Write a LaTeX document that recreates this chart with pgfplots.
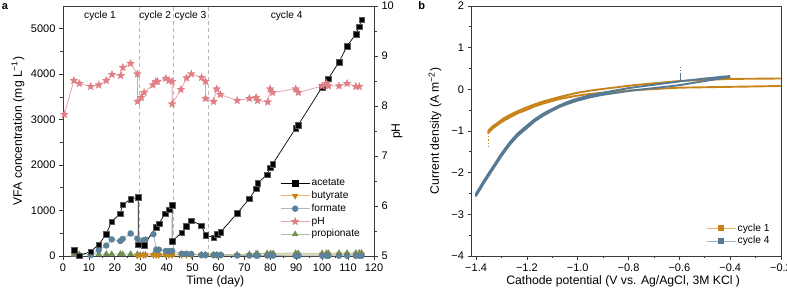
\documentclass[border=0pt]{standalone}
\usepackage{pgfplots}
\pgfplotsset{compat=1.18}
\usepackage{fontspec}
\setmainfont{Liberation Sans}
\definecolor{axgray}{HTML}{3A3A3A}
\definecolor{butyD}{HTML}{C98616}
\definecolor{butyL}{HTML}{E6BC6A}
\definecolor{formD}{HTML}{5B8299}
\definecolor{formL}{HTML}{A3BAC9}
\definecolor{phD}{HTML}{DF7F86}
\definecolor{phL}{HTML}{E9A3A7}
\definecolor{propD}{HTML}{6F8F55}
\definecolor{propL}{HTML}{A9C196}
\definecolor{cvO}{HTML}{C8841A}
\definecolor{cvB}{HTML}{577A92}
\definecolor{cvOL}{HTML}{E2B466}
\definecolor{cvBL}{HTML}{9DB3C3}
\pgfdeclareplotmark{fstar}{%
  \pgfpathmoveto{\pgfpointpolar{90}{\pgfplotmarksize}}%
  \pgfpathlineto{\pgfpointpolar{126}{0.45\pgfplotmarksize}}%
  \pgfpathlineto{\pgfpointpolar{162}{\pgfplotmarksize}}%
  \pgfpathlineto{\pgfpointpolar{198}{0.45\pgfplotmarksize}}%
  \pgfpathlineto{\pgfpointpolar{234}{\pgfplotmarksize}}%
  \pgfpathlineto{\pgfpointpolar{270}{0.45\pgfplotmarksize}}%
  \pgfpathlineto{\pgfpointpolar{306}{\pgfplotmarksize}}%
  \pgfpathlineto{\pgfpointpolar{342}{0.45\pgfplotmarksize}}%
  \pgfpathlineto{\pgfpointpolar{18}{\pgfplotmarksize}}%
  \pgfpathlineto{\pgfpointpolar{54}{0.45\pgfplotmarksize}}%
  \pgfpathclose
  \pgfusepathqfillstroke}
\pgfplotsset{
  myaxis/.style={
    scale only axis,
    tick align=outside,
    axis line style={axgray, line width=0.8pt},
    every tick/.style={axgray, line width=0.7pt},
    major tick length=4pt, minor tick length=2.5pt,
    tick label style={font=\fontsize{11}{13}\selectfont},
    label style={font=\fontsize{12.2}{14}\selectfont},
    /pgf/number format/assume math mode=true,
    /pgf/number format/1000 sep={},
    scaled ticks=false,
  },
  leg/.style={
    legend cell align=left,
    legend style={draw=none, fill=none, font=\fontsize{10.2}{12}\selectfont,
      inner sep=0pt, row sep=0pt,
      nodes={inner sep=1.5pt, text height=7.6pt, text depth=2.2pt},
      /tikz/every even column/.append style={column sep=3pt}},
    legend image code/.code={%
      \draw[mark repeat=2,mark phase=2,##1] plot coordinates {(0pt,0pt)(14.5pt,0pt)(29pt,0pt)};},
  },
}
\begin{document}
\begin{tikzpicture}
% ---------------- panel a, left axis ----------------
\begin{axis}[myaxis,
  at={(63pt,35pt)}, anchor=south west,
  width=311pt, height=250pt,
  xmin=0, xmax=120, ymin=0, ymax=5500,
  xtick={0,10,...,120}, minor x tick num=1,
  ytick={0,1000,...,5000}, minor y tick num=1,
  xtick pos=left, ytick pos=left,
  xlabel={Time (day)},
  ylabel={VFA concentration (mg L\textsuperscript{−1})},
  xlabel style={at={(axis description cs:0.49,-0.103)}, anchor=center},
  ylabel style={at={(axis description cs:-0.145,0.5)}, anchor=center},
  clip=false,
]
\draw[gray!55, line width=0.8pt, dash pattern=on 4pt off 3pt] (axis cs:29.5,0) -- (axis cs:29.5,5500);
\draw[gray!55, line width=0.8pt, dash pattern=on 4pt off 3pt] (axis cs:42.5,0) -- (axis cs:42.5,5500);
\draw[gray!55, line width=0.8pt, dash pattern=on 4pt off 3pt] (axis cs:56,0) -- (axis cs:56,5500);
\node[font=\fontsize{10.2}{12}\selectfont] at (axis cs:14.3,5290) {cycle 1};
\node[font=\fontsize{10.2}{12}\selectfont] at (axis cs:35.6,5290) {cycle 2};
\node[font=\fontsize{10.2}{12}\selectfont] at (axis cs:49.2,5290) {cycle 3};
\node[font=\fontsize{10.2}{12}\selectfont] at (axis cs:86.3,5290) {cycle 4};
% propionate
\addplot[propL, line width=0.8pt, mark=triangle*, mark size=3pt, mark options={fill=propD, draw=propD}] coordinates {
(4.2,30)(6.3,40)(10.7,40)(13.8,40)(16.7,45)(18.8,40)(22.1,45)(23.0,40)(26.1,45)(28.7,40)
(29.8,20)(31.0,25)(31.8,25)(34.9,30)(36.0,30)(37.0,30)(39.7,30)(40.9,30)(42.1,30)
(45.8,35)(47.6,35)(49.5,35)(53.4,30)(55.0,30)(58.1,30)(59.4,30)(60.9,30)(67.2,30)
(71.9,40)(74.5,50)(75.1,50)(78.8,60)(80.1,60)(81.1,60)(89.8,65)(90.8,60)(100,60)
(101.7,65)(102.4,65)(106.5,65)(109.6,65)(113,70)(114.3,70)(115.2,70)};
% butyrate
\addplot[butyL, line width=0.8pt, mark=triangle*, mark size=3pt, mark options={rotate=180, fill=butyD, draw=butyD}] coordinates {
(28.7,5)(29.8,20)(31.0,20)(31.8,20)(34.9,20)(36.0,20)(37.0,20)(39.7,20)(40.9,20)(42.1,20)
(45.8,20)(47.6,20)(49.5,20)(53.4,20)(55.0,20)(58.1,20)(59.4,20)(60.9,20)(67.2,20)
(71.9,20)(74.5,20)(75.1,20)(78.8,25)(80.1,25)(81.1,25)(89.8,25)(90.8,25)(100,30)
(101.7,30)(102.4,30)(106.5,30)(109.6,30)(113,30)(114.3,30)(115.2,30)};
% formate
\addplot[formL, line width=0.8pt, mark=*, mark size=2.8pt, mark options={fill=formD, draw=formD}] coordinates {
(10.7,20)(13.8,130)(16.7,230)(18.8,365)(22.1,330)(23.0,375)(26.1,495)(28.7,380)
(29.8,250)(31.0,345)(31.8,360)(34.9,480)(36.0,140)(37.0,140)(39.7,110)(40.9,110)(42.1,110)
(45.8,50)(47.6,50)(49.5,45)(53.4,20)(55.0,20)(58.1,20)(59.4,20)(60.9,20)(67.2,10)
(71.9,10)(74.5,10)(75.1,10)(78.8,10)(80.1,10)(81.1,10)(89.8,5)(90.8,5)(100,5)
(101.7,5)(102.4,5)(106.5,5)(109.6,5)(113,5)(114.3,5)(115.2,5)};
% acetate
\addplot[black, line width=0.7pt, mark=square*, mark size=2.8pt, mark options={fill=black, draw=black!65, line width=0.3pt}] coordinates {
(4.2,126)(6.3,10)(10.6,95)(13.8,252)(16.7,486)(18.8,760)(22.1,930)(23.0,1126)(26.1,1252)(29.0,1289)
(29.0,250)(31.2,240)(35.9,634)(37.0,715)(39.5,935)(40.9,1024)(42.1,1119)
(42.1,324)(45.8,517)(47.6,656)(49.5,781)(53.4,670)(55.0,457)(58.1,406)(59.4,479)(60.9,530)
(67.2,940)(71.9,1262)(74.5,1484)(75.1,1605)(78.8,1790)(79.9,1940)(80.9,2024)
(89.8,2812)(90.8,2885)(100.0,3717)(102.4,3901)(106.5,4269)(109.6,4614)(113.0,4887)(114.3,5042)(115.2,5203)};
\end{axis}
% ---------------- panel a, right axis (pH) ----------------
\begin{axis}[myaxis, leg,
  at={(63pt,35pt)}, anchor=south west,
  width=311pt, height=250pt,
  xmin=0, xmax=120, ymin=5, ymax=10,
  axis x line=none, axis y line*=right,
  ytick={5,6,...,10}, minor y tick num=1,
  ylabel={pH},
  ylabel style={at={(axis description cs:1.074,0.5)}, anchor=center},
  legend style={at={(0.698,0.318)}, anchor=north west},
]
\addlegendimage{black, line width=0.7pt, mark=square*, mark size=2.8pt, mark options={fill=black}}
\addlegendentry{acetate}
\addlegendimage{butyL, line width=0.8pt, mark=triangle*, mark size=3pt, mark options={rotate=180, fill=butyD, draw=butyD}}
\addlegendentry{butyrate}
\addlegendimage{formL, line width=0.8pt, mark=*, mark size=2.8pt, mark options={fill=formD, draw=formD}}
\addlegendentry{formate}
\addplot[phL, line width=0.8pt, mark=fstar, mark size=4pt, mark options={fill=phD, draw=phD, line width=0.3pt}] coordinates {
(0.5,7.83)(4.2,8.51)(6.3,8.45)(10.7,8.39)(13.8,8.42)(16.7,8.51)(18.9,8.63)(22.3,8.61)(23.1,8.77)
(26.1,8.85)(28.7,8.64)(28.8,8.09)(30.2,8.17)(31.3,8.27)(34.7,8.42)(35.8,8.49)(36.5,8.49)
(39.7,8.55)(40.9,8.51)(42.1,8.49)(42.1,8.04)(45.5,8.33)(47.7,8.56)(49.5,8.64)(53.5,8.57)
(55.0,8.49)(55.0,8.15)(58.1,8.09)(59.3,8.34)(60.7,8.23)(67.2,8.11)(71.9,8.15)(74.5,8.17)
(75.1,8.11)(79.0,8.08)(79.9,8.34)(80.9,8.27)(89.8,8.34)(90.8,8.27)(100.0,8.40)(101.7,8.45)
(102.4,8.40)(106.5,8.40)(109.6,8.45)(113.0,8.39)(114.3,8.39)};
\addlegendentry{pH}
\addlegendimage{propL, line width=0.8pt, mark=triangle*, mark size=3pt, mark options={fill=propD, draw=propD}}
\addlegendentry{propionate}
\end{axis}
% ---------------- panel b ----------------
\begin{axis}[myaxis, leg,
  at={(471.5pt,35pt)}, anchor=south west,
  width=309.5pt, height=250pt,
  xmin=-1.418, xmax=-0.2, ymin=-4, ymax=2,
  xtick={-1.4,-1.2,-1.0,-0.8,-0.6,-0.4,-0.2},
  xticklabels={−1.4,−1.2,−1.0,−0.8,−0.6,−0.4,−0.2},
  minor x tick num=1,
  ytick={-4,-3,-2,-1,0,1,2},
  yticklabels={−4,−3,−2,−1,0,1,2},
  minor y tick num=1,
  xtick pos=left, ytick pos=left,
  xlabel={Cathode potential (V vs. Ag/AgCl, 3M KCl )},
  ylabel={Current density (A m\textsuperscript{−2})},
  xlabel style={at={(axis description cs:0.49,-0.103)}, anchor=center},
  ylabel style={at={(axis description cs:-0.118,0.5)}, anchor=center},
  legend style={at={(0.758,0.137)}, anchor=north west},
]
\addplot[cvO, line width=1.9pt, line join=round, forget plot] coordinates {
(-0.2,0.08)(-0.4,0.06)(-0.6,0.04)(-0.78,-0.02)(-0.9,-0.08)(-0.95,-0.11)(-1.0,-0.15)(-1.035,-0.19)(-1.07,-0.23)
(-1.10,-0.28)(-1.135,-0.34)(-1.17,-0.41)(-1.2,-0.49)(-1.235,-0.57)(-1.266,-0.67)(-1.29,-0.75)(-1.31,-0.83)(-1.333,-0.93)(-1.352,-1.05)
(-1.352,-0.99)(-1.333,-0.88)(-1.31,-0.78)(-1.29,-0.69)(-1.266,-0.61)(-1.235,-0.52)(-1.2,-0.43)(-1.17,-0.36)(-1.135,-0.29)(-1.10,-0.23)(-1.07,-0.18)
(-1.035,-0.13)(-1.0,-0.08)(-0.95,-0.03)(-0.9,0.01)(-0.78,0.10)(-0.6,0.20)(-0.4,0.25)(-0.2,0.26)};
\addplot[cvO, line width=1.2pt, dotted, forget plot] coordinates {(-1.352,-1.05)(-1.352,-1.37)};
\addplot[cvB, line width=1.9pt, line join=round, forget plot] coordinates {
(-0.4,0.30)(-0.5,0.20)(-0.6,0.10)(-0.7,0.03)(-0.8,-0.04)(-0.9,-0.13)(-0.95,-0.19)(-1.0,-0.27)(-1.035,-0.34)(-1.07,-0.42)
(-1.10,-0.51)(-1.135,-0.63)(-1.17,-0.77)(-1.2,-0.93)(-1.235,-1.11)(-1.266,-1.32)(-1.30,-1.60)(-1.332,-1.90)(-1.366,-2.22)(-1.40,-2.56)
(-1.40,-2.50)(-1.366,-2.16)(-1.332,-1.84)(-1.30,-1.54)(-1.266,-1.26)(-1.235,-1.05)(-1.2,-0.87)(-1.17,-0.72)(-1.135,-0.58)(-1.10,-0.47)(-1.07,-0.38)
(-1.035,-0.29)(-1.0,-0.22)(-0.95,-0.14)(-0.9,-0.08)(-0.8,0.03)(-0.7,0.11)(-0.6,0.19)(-0.5,0.26)(-0.4,0.32)};
\addplot[cvB, line width=1.2pt, forget plot] coordinates {(-0.597,0.19)(-0.597,0.36)};
\addplot[cvB, line width=1.2pt, dotted, forget plot] coordinates {(-0.597,0.36)(-0.597,0.58)};
\addlegendimage{cvOL, line width=0.9pt, mark=square*, mark size=2.6pt, mark options={fill=cvO, draw=cvO}}
\addlegendentry{cycle 1}
\addlegendimage{cvBL, line width=0.9pt, mark=square*, mark size=2.6pt, mark options={fill=cvB, draw=cvB}}
\addlegendentry{cycle 4}
\end{axis}
\node[font=\bfseries\fontsize{11}{13}\selectfont] at (5pt,284pt) {a};
\node[font=\bfseries\fontsize{11}{13}\selectfont] at (421.7pt,285pt) {b};
\pgfresetboundingbox
\useasboundingbox (0pt,0pt) rectangle (787pt,291pt);
\end{tikzpicture}
\end{document}
